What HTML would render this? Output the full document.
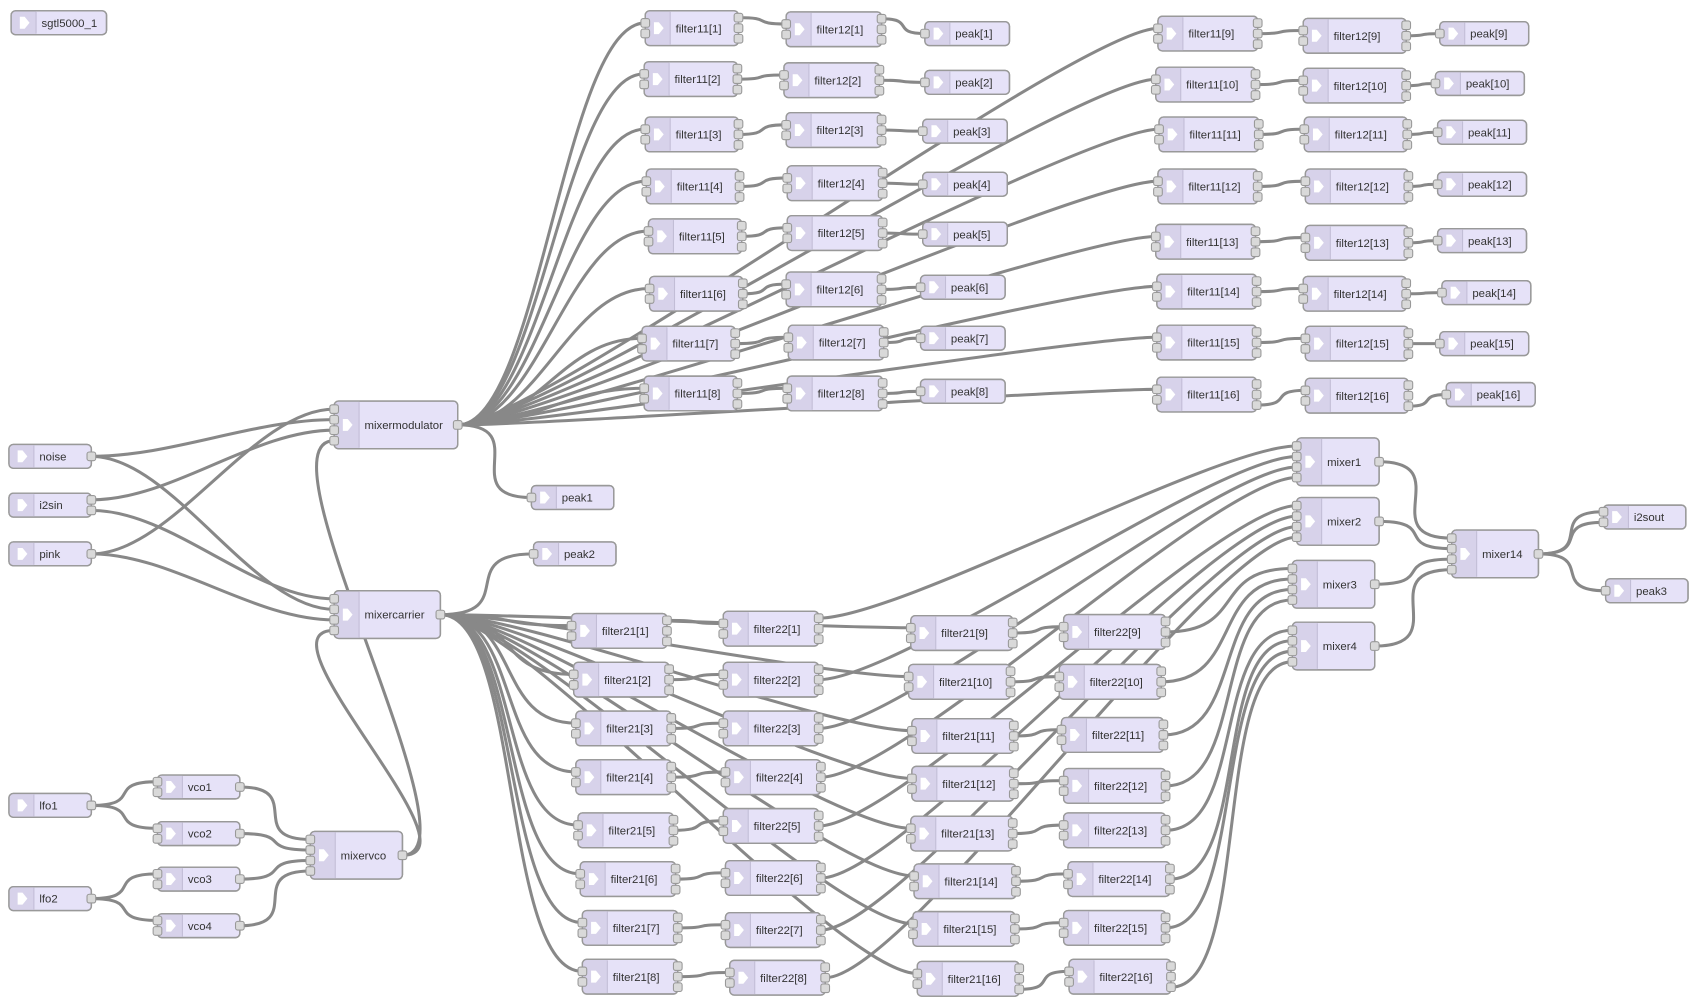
<!DOCTYPE html>
<html><head><meta charset="utf-8"><style>
html,body{margin:0;padding:0;background:#fff;}
svg{display:block;}
text{font-family:"Liberation Sans",sans-serif;font-size:10.5px;fill:#333;}
</style></head><body>
<svg id="s" width="1697" height="1007" viewBox="0 0 1565 929" xmlns="http://www.w3.org/2000/svg">
<g id="wires" fill="none" stroke="#888" stroke-width="2.8"></g>
<g id="nodes"></g>
<g id="labels">
<text>sgtl5000_1</text><text>noise</text><text>i2sin</text><text>pink</text><text>mixermodulator</text><text>mixercarrier</text><text>peak1</text><text>peak2</text><text>lfo1</text><text>lfo2</text><text>vco1</text><text>vco2</text><text>vco3</text><text>vco4</text><text>mixervco</text><text>mixer1</text><text>mixer2</text><text>mixer3</text><text>mixer4</text><text>mixer14</text><text>i2sout</text><text>peak3</text>
<text>filter11[1]</text><text>filter11[2]</text><text>filter11[3]</text><text>filter11[4]</text><text>filter11[5]</text><text>filter11[6]</text><text>filter11[7]</text><text>filter11[8]</text><text>filter11[9]</text><text>filter11[10]</text><text>filter11[11]</text><text>filter11[12]</text><text>filter11[13]</text><text>filter11[14]</text><text>filter11[15]</text><text>filter11[16]</text>
<text>filter12[1]</text><text>filter12[2]</text><text>filter12[3]</text><text>filter12[4]</text><text>filter12[5]</text><text>filter12[6]</text><text>filter12[7]</text><text>filter12[8]</text><text>filter12[9]</text><text>filter12[10]</text><text>filter12[11]</text><text>filter12[12]</text><text>filter12[13]</text><text>filter12[14]</text><text>filter12[15]</text><text>filter12[16]</text>
<text>peak[1]</text><text>peak[2]</text><text>peak[3]</text><text>peak[4]</text><text>peak[5]</text><text>peak[6]</text><text>peak[7]</text><text>peak[8]</text><text>peak[9]</text><text>peak[10]</text><text>peak[11]</text><text>peak[12]</text><text>peak[13]</text><text>peak[14]</text><text>peak[15]</text><text>peak[16]</text>
<text>filter21[1]</text><text>filter21[2]</text><text>filter21[3]</text><text>filter21[4]</text><text>filter21[5]</text><text>filter21[6]</text><text>filter21[7]</text><text>filter21[8]</text><text>filter21[9]</text><text>filter21[10]</text><text>filter21[11]</text><text>filter21[12]</text><text>filter21[13]</text><text>filter21[14]</text><text>filter21[15]</text><text>filter21[16]</text>
<text>filter22[1]</text><text>filter22[2]</text><text>filter22[3]</text><text>filter22[4]</text><text>filter22[5]</text><text>filter22[6]</text><text>filter22[7]</text><text>filter22[8]</text><text>filter22[9]</text><text>filter22[10]</text><text>filter22[11]</text><text>filter22[12]</text><text>filter22[13]</text><text>filter22[14]</text><text>filter22[15]</text><text>filter22[16]</text>
</g>
</svg>
<script>
var N=[
[10,10,88,22,0,0],[8,410,76,22,0,1],[8,455,76,22,0,2],[8,500,76,22,0,1],
[308,370,114,44,4,1],[308,545,98,44,4,1],[490,448,76,22,1,0],[492,500,76,22,1,0],
[8,732,76,22,0,1],[8,818,76,22,0,1],[145,715,76,22,2,1],[145,758,76,22,2,1],
[145,800,76,22,2,1],[145,843,76,22,2,1],[286,767,85,44,4,1],
[1196,404,76,44,4,1],[1196,459,76,44,4,1],[1192,517,76,44,4,1],[1192,574,76,44,4,1],
[1339,489,80,44,4,1],[1479,466,76,22,2,0],[1481,534,76,22,1,0]];
function grp(xs,ys,w1,w2,h,ni,no){var s=N.length;for(var i=0;i<16;i++)N.push([xs[i],ys[i],i<8?w1:w2,h,ni,no]);return s;}
var F11=grp([595,594,595,596,598,599,592,594,1068,1066,1069,1068,1066,1067,1067,1067],[10,57,108,156,202,255,301,347,15,62,108,156,207,253,300,348],86,92,32,2,3);
var F12=grp([725,723,725,726,726,725,727,726,1202,1202,1203,1204,1204,1202,1204,1204],[11,58,104,153,199,251,300,347,17,63,108,156,208,255,301,349],88,95,32,2,3);
var PK=grp([853,853,851,851,851,849,849,849,1328,1324,1326,1326,1326,1330,1328,1334],[20,65,110,159,205,254,301,350,20,66,111,159,211,259,306,353],78,82,22,1,0);
var F21=grp([527,529,531,531,533,535,537,537,840,838,841,841,840,843,842,846],[566,611,656,701,750,795,840,885,568,613,663,707,753,797,841,887],88,94,32,2,3);
var F22=grp([667,667,667,669,667,669,669,673,981,977,979,981,981,985,981,986],[564,611,656,701,746,794,842,886,567,613,662,709,750,795,840,885],88,94,32,2,3);
var SP=9.7;
function py(n,i,c){var d=N[n];return d[1]+d[3]/2+(i-(c-1)/2)*SP;}
function outP(n,i){var d=N[n];return [d[0]+d[2],py(n,i,d[5])];}
function inP(n,i){var d=N[n];return [d[0],py(n,i,d[4])];}
var W=[];
function c(a,ao,b,bi){W.push([a,ao,b,bi]);}
c(3,0,4,0);c(1,0,4,1);c(2,0,4,2);c(14,0,4,3);
c(2,1,5,0);c(1,0,5,1);c(3,0,5,2);c(14,0,5,3);
c(8,0,10,0);c(8,0,11,0);c(9,0,12,0);c(9,0,13,0);
c(10,0,14,0);c(11,0,14,1);c(12,0,14,2);c(13,0,14,3);
c(4,0,6,0);c(5,0,7,0);
for(var i=0;i<16;i++){var o=i==0?0:(i==15?2:1);
c(4,0,F11+i,0);c(F11+i,o,F12+i,0);c(F12+i,o,PK+i,0);
c(5,0,F21+i,0);c(F21+i,o,F22+i,0);c(F22+i,o,15+Math.floor(i/4),i%4);}
c(15,0,19,0);c(16,0,19,1);c(17,0,19,2);c(18,0,19,3);
c(19,0,20,0);c(19,0,20,1);c(19,0,21,0);
var ns="http://www.w3.org/2000/svg";
function el(t,a,p){var e=document.createElementNS(ns,t);for(var k in a)e.setAttribute(k,a[k]);p.appendChild(e);return e;}
var wg=document.getElementById('wires');
W.forEach(function(w){var p=outP(w[0],w[1]),q=inP(w[2],w[3]);var dx=q[0]-p[0],dy=q[1]-p[1];var dl=Math.sqrt(dx*dx+dy*dy);var sc=0.75;if(dl<100)sc=0.75-0.75*((100-dl)/100);var cc=100*sc;
el('path',{d:'M'+p[0]+' '+p[1]+' C'+(p[0]+cc)+' '+p[1]+' '+(q[0]-cc)+' '+q[1]+' '+q[0]+' '+q[1]},wg);});
var ng=document.getElementById('nodes');var L=document.querySelectorAll('#labels text');
N.forEach(function(d,n){var x=d[0],y=d[1],w=d[2],h=d[3];
el('rect',{x:x,y:y,width:w,height:h,rx:4,fill:'#e6e2f8',stroke:'#999','stroke-width':1.3},ng);
el('path',{d:'M'+(x+4)+' '+y+' H'+(x+23)+' V'+(y+h)+' H'+(x+4)+' a4 4 0 0 1 -4 -4 V'+(y+4)+' a4 4 0 0 1 4 -4z',fill:'#d7d2ea'},ng);
el('line',{x1:x+23,y1:y+1,x2:x+23,y2:y+h-1,stroke:'#c2bdd6','stroke-width':1},ng);
el('rect',{x:x,y:y,width:w,height:h,rx:4,fill:'none',stroke:'#999','stroke-width':1.3},ng);
var cy=y+h/2;el('path',{d:'M'+(x+8)+' '+(cy-5.5)+' H'+(x+12.5)+' L'+(x+17)+' '+cy+' L'+(x+12.5)+' '+(cy+5.5)+' H'+(x+8)+'z',fill:'#fff'},ng);
for(var i=0;i<d[4];i++){var yy=py(n,i,d[4]);el('rect',{x:x-4,y:yy-4,width:8,height:8,rx:2,fill:'#d9d9d9',stroke:'#999','stroke-width':1},ng);}
for(var i=0;i<d[5];i++){var yy=py(n,i,d[5]);el('rect',{x:x+w-4,y:yy-4,width:8,height:8,rx:2,fill:'#d9d9d9',stroke:'#999','stroke-width':1},ng);}
var t=L[n];if(t){t.setAttribute('x',x+28);t.setAttribute('y',cy+3.8);}
});
</script>
</body></html>
